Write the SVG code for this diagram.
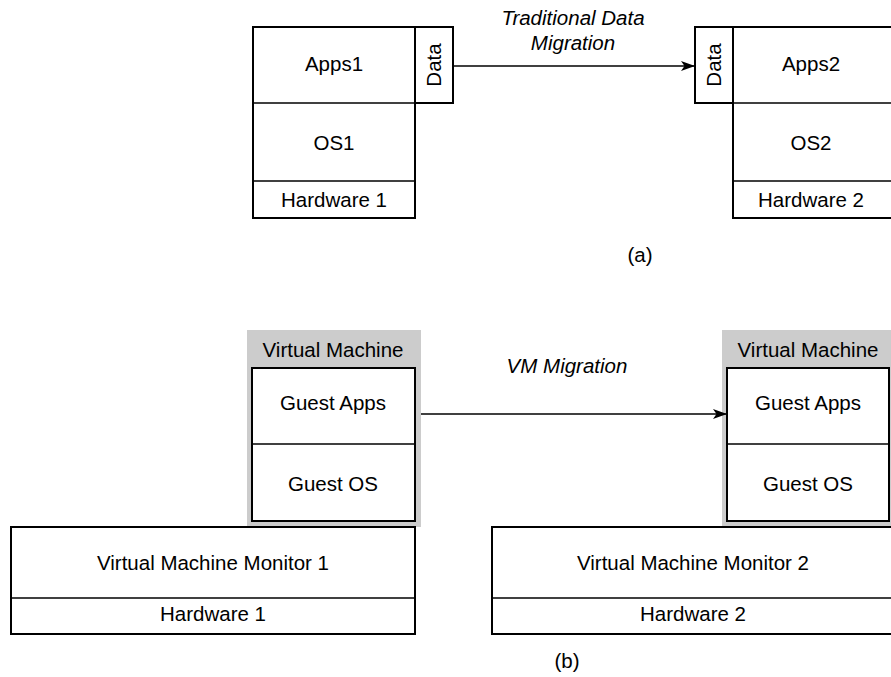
<svg xmlns="http://www.w3.org/2000/svg" width="891" height="677" viewBox="0 0 891 677">
<defs>
<style>
.box{fill:#fff;stroke:#000;stroke-width:2}
.div{fill:none;stroke:#000;stroke-width:1.6}
.vm{fill:#cccccc;stroke:none}
.t{font-family:"Liberation Sans",Arial,sans-serif;font-size:20.5px;fill:#000;text-anchor:middle}
.i{font-style:italic}
.conn{fill:none;stroke:#000;stroke-width:1.5}
</style>
<marker id="ah" viewBox="0 0 14 10" refX="14" refY="5" markerWidth="14" markerHeight="10" markerUnits="userSpaceOnUse" orient="auto">
<path d="M0,0 L14,5 L0,10 L3.5,5 Z" fill="#000"/>
</marker>
</defs>
<rect width="891" height="677" fill="#fff"/>

<g id="stack1">
<rect class="box" x="253" y="27" width="162" height="191"/>
<line class="div" x1="253" y1="103" x2="415" y2="103"/>
<line class="div" x1="253" y1="181" x2="415" y2="181"/>
<text class="t" x="334" y="71">Apps1</text>
<text class="t" x="334" y="150">OS1</text>
<text class="t" x="334" y="207">Hardware 1</text>
</g>
<g id="data1">
<rect class="box" x="415" y="27" width="38" height="76"/>
<text class="t" transform="translate(441,65) rotate(-90)">Data</text>
</g>

<g id="stack2">
<rect class="box" x="733" y="27" width="162" height="191"/>
<line class="div" x1="733" y1="103" x2="895" y2="103"/>
<line class="div" x1="733" y1="181" x2="895" y2="181"/>
<text class="t" x="811" y="71">Apps2</text>
<text class="t" x="811" y="150">OS2</text>
<text class="t" x="811" y="207">Hardware 2</text>
</g>
<g id="data2">
<rect class="box" x="695" y="27" width="38" height="76"/>
<text class="t" transform="translate(721,65) rotate(-90)">Data</text>
</g>

<text class="t" x="640" y="262">(a)</text>

<g id="vm1">
<rect class="vm" x="247" y="330" width="174" height="197"/>
<text class="t" x="333" y="357">Virtual Machine</text>
<rect class="box" x="252" y="368" width="163" height="153"/>
<line class="div" x1="252" y1="444" x2="415" y2="444"/>
<text class="t" x="333" y="410">Guest Apps</text>
<text class="t" x="333" y="491">Guest OS</text>
</g>

<g id="vm2">
<rect class="vm" x="722" y="330" width="174" height="197"/>
<text class="t" x="808" y="357">Virtual Machine</text>
<rect class="box" x="727" y="368" width="162" height="153"/>
<line class="div" x1="727" y1="444" x2="889" y2="444"/>
<text class="t" x="808" y="410">Guest Apps</text>
<text class="t" x="808" y="491">Guest OS</text>
</g>

<g id="host1">
<rect class="box" x="11" y="527" width="404" height="107"/>
<line class="div" x1="11" y1="598" x2="415" y2="598"/>
<text class="t" x="213" y="570">Virtual Machine Monitor 1</text>
<text class="t" x="213" y="621">Hardware 1</text>
</g>

<g id="host2">
<rect class="box" x="492" y="527" width="404" height="107"/>
<line class="div" x1="492" y1="598" x2="896" y2="598"/>
<text class="t" x="693" y="570">Virtual Machine Monitor 2</text>
<text class="t" x="693" y="621">Hardware 2</text>
</g>

<text class="t" x="567" y="668">(b)</text>

<g id="connectors">
<line class="conn" x1="453" y1="66" x2="695" y2="66" marker-end="url(#ah)"/>
<text class="t i" x="573" y="25">Traditional Data</text>
<text class="t i" x="573" y="50">Migration</text>
<line class="conn" x1="421" y1="414" x2="727" y2="414" marker-end="url(#ah)"/>
<text class="t i" x="567" y="373">VM Migration</text>
</g>
</svg>
